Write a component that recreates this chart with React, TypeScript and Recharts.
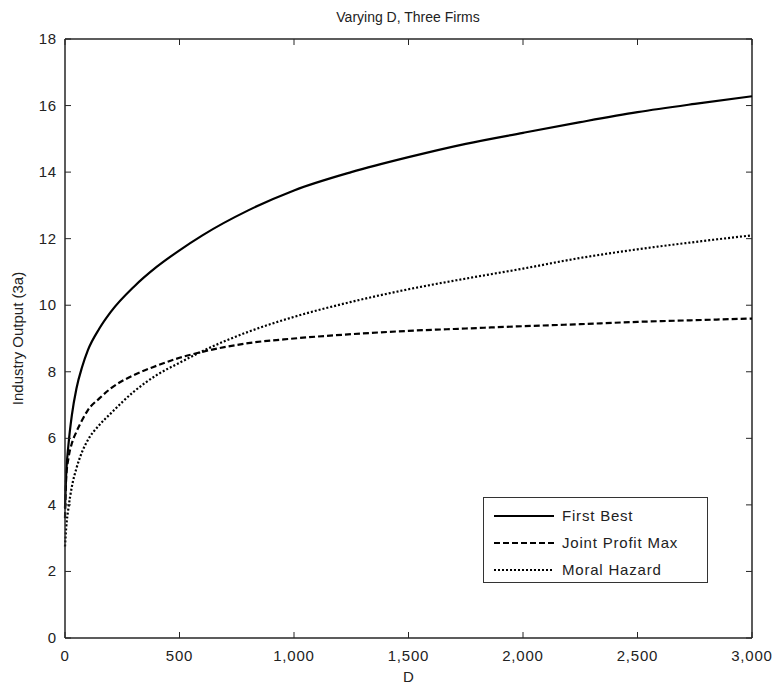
import { LineChart, Line, XAxis, YAxis, ReferenceLine, Legend } from "recharts";

// D values (x) and the three industry output series
const dValues = [0, 5, 15, 30, 50, 75, 100, 150, 200, 300, 400, 500, 600, 800, 1000, 1250, 1500, 1750, 2000, 2250, 2500, 2750, 3000];
const firstBest = [3.9, 4.9, 5.8, 6.7, 7.5, 8.15, 8.65, 9.3, 9.8, 10.55, 11.15, 11.65, 12.1, 12.85, 13.45, 14.0, 14.45, 14.85, 15.18, 15.5, 15.8, 16.05, 16.28];
const jointProfitMax = [3.6, 4.8, 5.4, 5.85, 6.2, 6.55, 6.85, 7.2, 7.5, 7.9, 8.18, 8.42, 8.6, 8.86, 9.0, 9.13, 9.23, 9.3, 9.37, 9.43, 9.5, 9.55, 9.6];
const moralHazard = [2.75, 3.3, 3.9, 4.55, 5.1, 5.6, 5.95, 6.4, 6.75, 7.4, 7.9, 8.27, 8.62, 9.2, 9.65, 10.1, 10.48, 10.8, 11.1, 11.42, 11.68, 11.9, 12.1];

const xTicks = [0, 500, 1000, 1500, 2000, 2500, 3000];
const yTicks = [0, 2, 4, 6, 8, 10, 12, 14, 16, 18];

const data = dValues.map((d, i) => ({
  d,
  fb: firstBest[i],
  jpm: jointProfitMax[i],
  mh: moralHazard[i],
}));

const FONT = "Arial, 'Liberation Sans', sans-serif";
const AXIS = "#262626";
const PLOT = { left: 65, right: 752, top: 39, bottom: 638 };

const series = [
  { key: "fb", name: "First Best", dash: undefined },
  { key: "jpm", name: "Joint Profit Max", dash: "6 3" },
  { key: "mh", name: "Moral Hazard", dash: "2 2" },
];

const XTick = ({ x, payload }: any) => (
  <g>
    <line x1={x} x2={x} y1={PLOT.bottom} y2={PLOT.bottom - 6} stroke={AXIS} />
    <line x1={x} x2={x} y1={PLOT.top} y2={PLOT.top + 6} stroke={AXIS} />
    <text x={x} y={PLOT.bottom + 23} textAnchor="middle" fontSize={15} letterSpacing={0.8} fill="#222" fontFamily={FONT}>
      {payload.value.toLocaleString("en-US")}
    </text>
  </g>
);

const YTick = ({ y, payload }: any) => (
  <g>
    <line x1={PLOT.left} x2={PLOT.left + 6} y1={y} y2={y} stroke={AXIS} />
    <line x1={PLOT.right} x2={PLOT.right - 6} y1={y} y2={y} stroke={AXIS} />
    <text x={PLOT.left - 8} y={y + 5} textAnchor="end" fontSize={15} letterSpacing={0.8} fill="#222" fontFamily={FONT}>
      {payload.value}
    </text>
  </g>
);

const LegendBox = () => (
  <div
    style={{
      width: 225,
      height: 86,
      border: "1.5px solid #333",
      background: "#fff",
      boxSizing: "border-box",
      padding: "4px 0 0 10px",
      fontFamily: FONT,
      fontSize: 15,
      letterSpacing: 0.8,
      color: "#222",
    }}
  >
    {series.map((s) => (
      <div key={s.key} style={{ display: "flex", alignItems: "center", height: 27 }}>
        <svg width={60} height={10} style={{ marginRight: 8 }}>
          <line x1={0} x2={60} y1={5} y2={5} stroke="#000" strokeWidth={2.2} strokeDasharray={s.dash} />
        </svg>
        <span>{s.name}</span>
      </div>
    ))}
  </div>
);

export default function App() {
  return (
    <div style={{ position: "absolute", left: 0, top: 0, width: 777, height: 692, background: "#fff" }}>
      <LineChart width={777} height={692} data={data} margin={{ top: 39, right: 25, left: 0, bottom: 0 }}>
        <XAxis
          dataKey="d"
          type="number"
          domain={[0, 3000]}
          ticks={xTicks}
          height={54}
          tickLine={false}
          tick={<XTick />}
          axisLine={{ stroke: AXIS, strokeWidth: 1.5 }}
          label={{ value: "D", position: "insideBottom", offset: 10, fill: "#222", fontSize: 15, fontFamily: FONT }}
        />
        <YAxis
          type="number"
          domain={[0, 18]}
          ticks={yTicks}
          width={65}
          tickLine={false}
          tick={<YTick />}
          axisLine={{ stroke: AXIS, strokeWidth: 1.5 }}
          label={{
            value: "Industry Output (3a)",
            angle: -90,
            position: "insideLeft",
            offset: 18,
            style: { textAnchor: "middle", fill: "#222", fontSize: 15, fontFamily: FONT },
          }}
        />
        <ReferenceLine y={18} stroke={AXIS} strokeWidth={1.5} />
        <ReferenceLine x={3000} stroke={AXIS} strokeWidth={1.5} />
        {series.map((s) => (
          <Line
            key={s.key}
            dataKey={s.key}
            name={s.name}
            type="monotone"
            stroke="#000"
            strokeWidth={2.2}
            strokeDasharray={s.dash}
            dot={false}
            isAnimationActive={false}
          />
        ))}
        <Legend
          layout="vertical"
          align="center"
          verticalAlign="middle"
          content={<LegendBox />}
          wrapperStyle={{ position: "absolute", left: 483, top: 497, width: 225 }}
        />
        <text x={408} y={22} textAnchor="middle" fontSize={14} fontFamily={FONT} fill="#222">
          Varying D, Three Firms
        </text>
      </LineChart>
    </div>
  );
}
